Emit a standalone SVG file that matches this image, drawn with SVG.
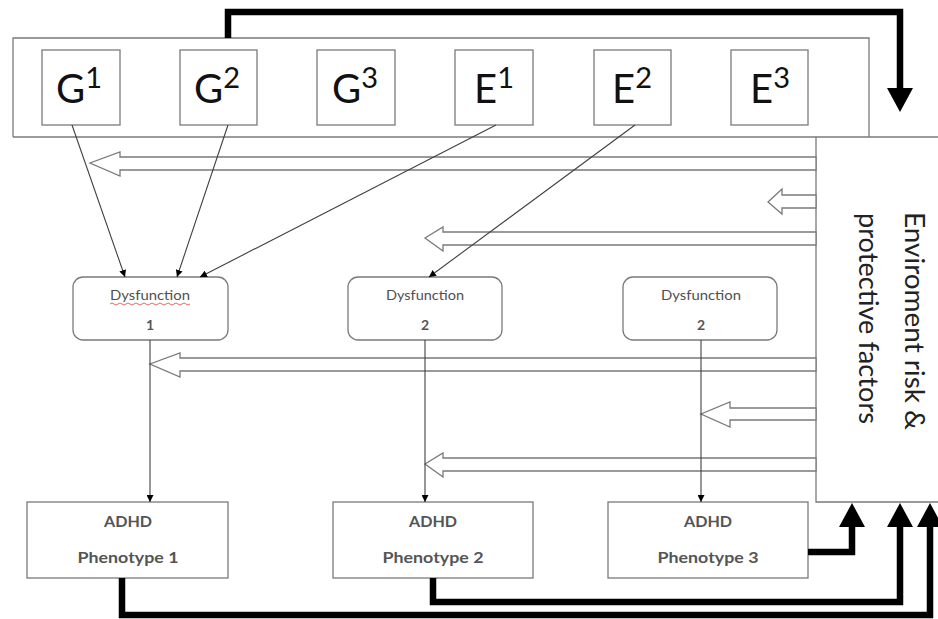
<svg xmlns="http://www.w3.org/2000/svg" width="938" height="619" viewBox="0 0 938 619">
<defs>
<style>
.box{fill:#fff;stroke:#7a7a7a;stroke-width:1.3}
.frame{fill:none;stroke:#7a7a7a;stroke-width:1.3}
.big{font-family:Lato,"Open Sans","Liberation Sans",sans-serif;font-size:40px;fill:#111}
.sup{font-size:29px}
.dys{font-family:Lato,"Open Sans","Liberation Sans",sans-serif;font-size:13px;fill:#505050;text-anchor:middle}
.num{font-size:14px;font-weight:bold;fill:#555}
.adhd{font-family:Lato,"Open Sans","Liberation Sans",sans-serif;font-size:16px;font-weight:bold;fill:#555;text-anchor:middle}
.side{font-family:Lato,"Open Sans","Liberation Sans",sans-serif;font-size:26px;fill:#222}
.thin{fill:none;stroke:#404040;stroke-width:1.1}
.block{fill:#fff;stroke:#7a7a7a;stroke-width:1.3;stroke-linejoin:miter}
.thick{fill:none;stroke:#000;stroke-width:6.5;stroke-linejoin:miter}
.head{fill:#000}
</style>
<marker id="tri" viewBox="0 0 10 10" refX="10" refY="5" markerWidth="7" markerHeight="7" markerUnits="userSpaceOnUse" orient="auto">
<path d="M0,0 L10,5 L0,10 Z" fill="#000"/>
</marker>
</defs>
<rect width="938" height="619" fill="#fff"/>

<g id="frame">
<path class="frame" d="M13,137 V38 H869 V137"/>
<path class="frame" d="M13,137 H938"/>
<path class="frame" d="M816,137 V502 H938"/>
</g>

<g id="block-arrows">
<polygon class="block" points="816,157 120,157 120,152 90,163 120,176 120,170 816,170"/>
<polygon class="block" points="816,195 782,195 782,189 768,202 782,214 782,208 816,208"/>
<polygon class="block" points="816,232 443,232 443,227 425,238 443,251 443,245 816,245"/>
<polygon class="block" points="816,358 180,358 180,353 150,364 180,377 180,371 816,371"/>
<polygon class="block" points="816,408 730,408 730,402 701,414 730,427 730,420 816,420"/>
<polygon class="block" points="816,458 443,458 443,453 425,464 443,477 443,471 816,471"/>
</g>

<g id="G1"><rect class="box" x="42" y="50" width="78" height="75"/><text class="big" x="79" y="103" text-anchor="middle">G<tspan class="sup" dy="-15">1</tspan></text></g>
<g id="G2"><rect class="box" x="180" y="50" width="77" height="75"/><text class="big" x="217" y="103" text-anchor="middle">G<tspan class="sup" dy="-15">2</tspan></text></g>
<g id="G3"><rect class="box" x="317" y="50" width="78" height="75"/><text class="big" x="355" y="103" text-anchor="middle">G<tspan class="sup" dy="-15">3</tspan></text></g>
<g id="E1"><rect class="box" x="455" y="50" width="78" height="75"/><text class="big" x="494" y="103" text-anchor="middle">E<tspan class="sup" dy="-15">1</tspan></text></g>
<g id="E2"><rect class="box" x="594" y="50" width="77" height="75"/><text class="big" x="632" y="103" text-anchor="middle">E<tspan class="sup" dy="-15">2</tspan></text></g>
<g id="E3"><rect class="box" x="731" y="50" width="77" height="75"/><text class="big" x="770" y="103" text-anchor="middle">E<tspan class="sup" dy="-15">3</tspan></text></g>

<g id="Dys1"><rect class="box" x="73" y="277" width="155" height="63" rx="10"/><text class="dys" x="150" y="300" textLength="80" lengthAdjust="spacingAndGlyphs">Dysfunction</text><path d="M110,304 q2,-2 4,0 t4,0 t4,0 t4,0 t4,0 t4,0 t4,0 t4,0 t4,0 t4,0 t4,0 t4,0 t4,0 t4,0 t4,0 t4,0 t4,0 t4,0 t4,0 t4,0" fill="none" stroke="#e05a5a" stroke-width="0.9"/><text class="dys num" x="150" y="330">1</text></g>
<g id="Dys2"><rect class="box" x="348" y="277" width="154" height="63" rx="10"/><text class="dys" x="425" y="300" textLength="78" lengthAdjust="spacingAndGlyphs">Dysfunction</text><text class="dys num" x="425" y="330">2</text></g>
<g id="Dys3"><rect class="box" x="623" y="277" width="154" height="63" rx="10"/><text class="dys" x="701" y="300" textLength="80" lengthAdjust="spacingAndGlyphs">Dysfunction</text><text class="dys num" x="701" y="330">2</text></g>

<g id="ADHD1"><rect class="box" x="27" y="502" width="201" height="76"/><text class="adhd" x="128" y="527" textLength="48" lengthAdjust="spacingAndGlyphs">ADHD</text><text class="adhd" x="128" y="563" textLength="101" lengthAdjust="spacingAndGlyphs">Phenotype 1</text></g>
<g id="ADHD2"><rect class="box" x="333" y="502" width="200" height="76"/><text class="adhd" x="433" y="527" textLength="48" lengthAdjust="spacingAndGlyphs">ADHD</text><text class="adhd" x="433" y="563" textLength="101" lengthAdjust="spacingAndGlyphs">Phenotype 2</text></g>
<g id="ADHD3"><rect class="box" x="608" y="502" width="200" height="76"/><text class="adhd" x="708" y="527" textLength="48" lengthAdjust="spacingAndGlyphs">ADHD</text><text class="adhd" x="708" y="563" textLength="101" lengthAdjust="spacingAndGlyphs">Phenotype 3</text></g>

<g id="Env">
<text class="side" transform="translate(905,212) rotate(90)" textLength="218" lengthAdjust="spacingAndGlyphs">Enviroment risk &amp;</text>
<text class="side" transform="translate(859,213) rotate(90)" textLength="211" lengthAdjust="spacingAndGlyphs">protective factors</text>
</g>

<g id="connectors">
<line class="thin" x1="72" y1="125" x2="125" y2="277" marker-end="url(#tri)"/>
<line class="thin" x1="228" y1="125" x2="177" y2="277" marker-end="url(#tri)"/>
<line class="thin" x1="496" y1="125" x2="200" y2="277" marker-end="url(#tri)"/>
<line class="thin" x1="635" y1="125" x2="429" y2="277" marker-end="url(#tri)"/>
<line class="thin" x1="150" y1="340" x2="150" y2="502" marker-end="url(#tri)"/>
<line class="thin" x1="425" y1="340" x2="425" y2="502" marker-end="url(#tri)"/>
<line class="thin" x1="701" y1="340" x2="701" y2="502" marker-end="url(#tri)"/>

<path class="thick" d="M228,38 V12 H900 V90"/>
<polygon class="head" points="887,88 913,88 900,112"/>
<path class="thick" d="M808,552 H852 V526"/>
<polygon class="head" points="839,527 865,527 852,503"/>
<path class="thick" d="M433,578 V602 H900 V526"/>
<polygon class="head" points="887,527 913,527 900,503"/>
<path class="thick" d="M122,578 V615 H930 V526"/>
<polygon class="head" points="917,527 943,527 930,503"/>
</g>
</svg>
